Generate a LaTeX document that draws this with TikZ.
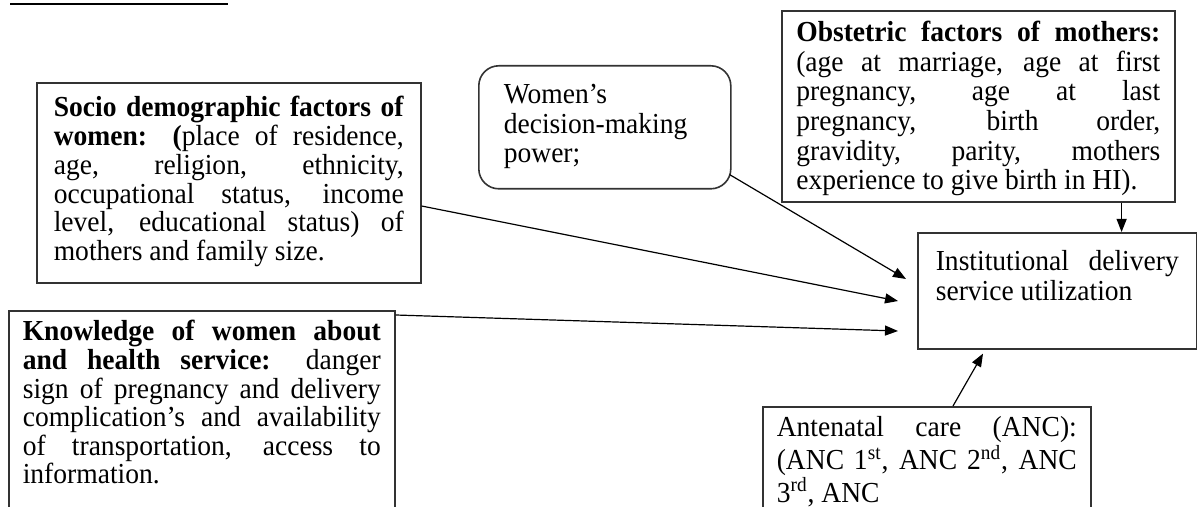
\documentclass[tikz,border=0pt]{standalone}
\usepackage{fontspec}
\setmainfont[FakeStretch=0.95]{Liberation Serif}
\usetikzlibrary{arrows.meta,calc,positioning}
\tikzset{
    fbox/.style={draw=black!80, line width=0.8pt, anchor=north west,
                 align=justify, inner ysep=0pt, text width=#1,
                 font=\fontsize{14.5pt}{14.4pt}\selectfont},
    rbox/.style={fbox=#1, rounded corners=10pt, align=left},
}

\begin{document}
\begin{tikzpicture}[
    x=0.5pt, y=-0.5pt,
    arr/.style={-{Triangle[length=6.5pt,width=5pt]}, line width=0.6pt, black}
]
    \useasboundingbox (0,0) rectangle (1197,507);
    \draw[line width=1.2pt] (10,4) -- (228,4);

    \node[fbox=175pt, inner xsep=8.5pt, text height=17pt, text depth=83pt] (socio) at (36,82)
        {\textbf{Socio demographic factors of}\linebreak
         \textbf{women: (}place of residence,\linebreak
         age, religion, ethnicity,\linebreak
         occupational status, income\linebreak
         level, educational status) of\linebreak
         mothers and family size.};
    \node[fbox=179pt, inner xsep=7pt, text height=15pt, text depth=95pt,
          font=\fontsize{14.5pt}{14.3pt}\selectfont] (know) at (8,310)
        {\textbf{Knowledge of women about}\linebreak
         \textbf{and health service:} danger\linebreak
         sign of pregnancy and delivery\linebreak
         complication’s and availability\linebreak
         of transportation, access to\linebreak
         information.};
    \node[rbox=101pt, inner xsep=12.5pt, text height=19pt, text depth=42.5pt,
          font=\fontsize{14.5pt}{14.7pt}\selectfont] (women) at (478,65)
        {Women’s\\ decision-making\\ power;};
    \node[fbox=182pt, inner xsep=7.25pt, text height=15.5pt, text depth=80pt,
          font=\fontsize{14.5pt}{14.8pt}\selectfont] (obst) at (781,10)
        {\parfillskip=0pt
         \textbf{Obstetric factors of mothers:}\linebreak
         (age at marriage, age at first\linebreak
         pregnancy, age at last\linebreak
         pregnancy, birth order,\linebreak
         gravidity, parity, mothers\linebreak
         experience to give birth in HI).};
    \node[fbox=121.5pt, inner xsep=9pt, text height=19pt, text depth=39pt,
          font=\fontsize{14.5pt}{14.8pt}\selectfont] (inst) at (917,232)
        {Institutional delivery\linebreak
         service utilization};
    \node[fbox=150pt, inner xsep=7pt, text height=15pt, text depth=47pt,
          font=\fontsize{14.5pt}{15.2pt}\selectfont] (anc) at (762,406)
        {Antenatal care (ANC):\linebreak
         (ANC 1\textsuperscript{st}, ANC 2\textsuperscript{nd}, ANC\linebreak
         3\textsuperscript{rd}, ANC};

    \coordinate (obstout) at ($(obst.south east)+(-54,0)$);
    \coordinate (ancout) at ($(anc.north west)+(191,0)$);

    \draw[arr] ($(women.south east)+(-2,-15)$) -- ($(inst.north west)+(-11,47)$);
    \draw[arr] ($(socio.north east)+(0,124)$) -- ($(inst.north west)+(-19,69)$);
    \draw[arr] ($(know.north east)+(0,5)$) -- ($(inst.north west)+(-19,99)$);
    \draw[arr] (obstout) -- (obstout |- inst.north);
    \draw[arr] (ancout) -- ($(inst.south west)+(66,4)$);
\end{tikzpicture}
\end{document}
